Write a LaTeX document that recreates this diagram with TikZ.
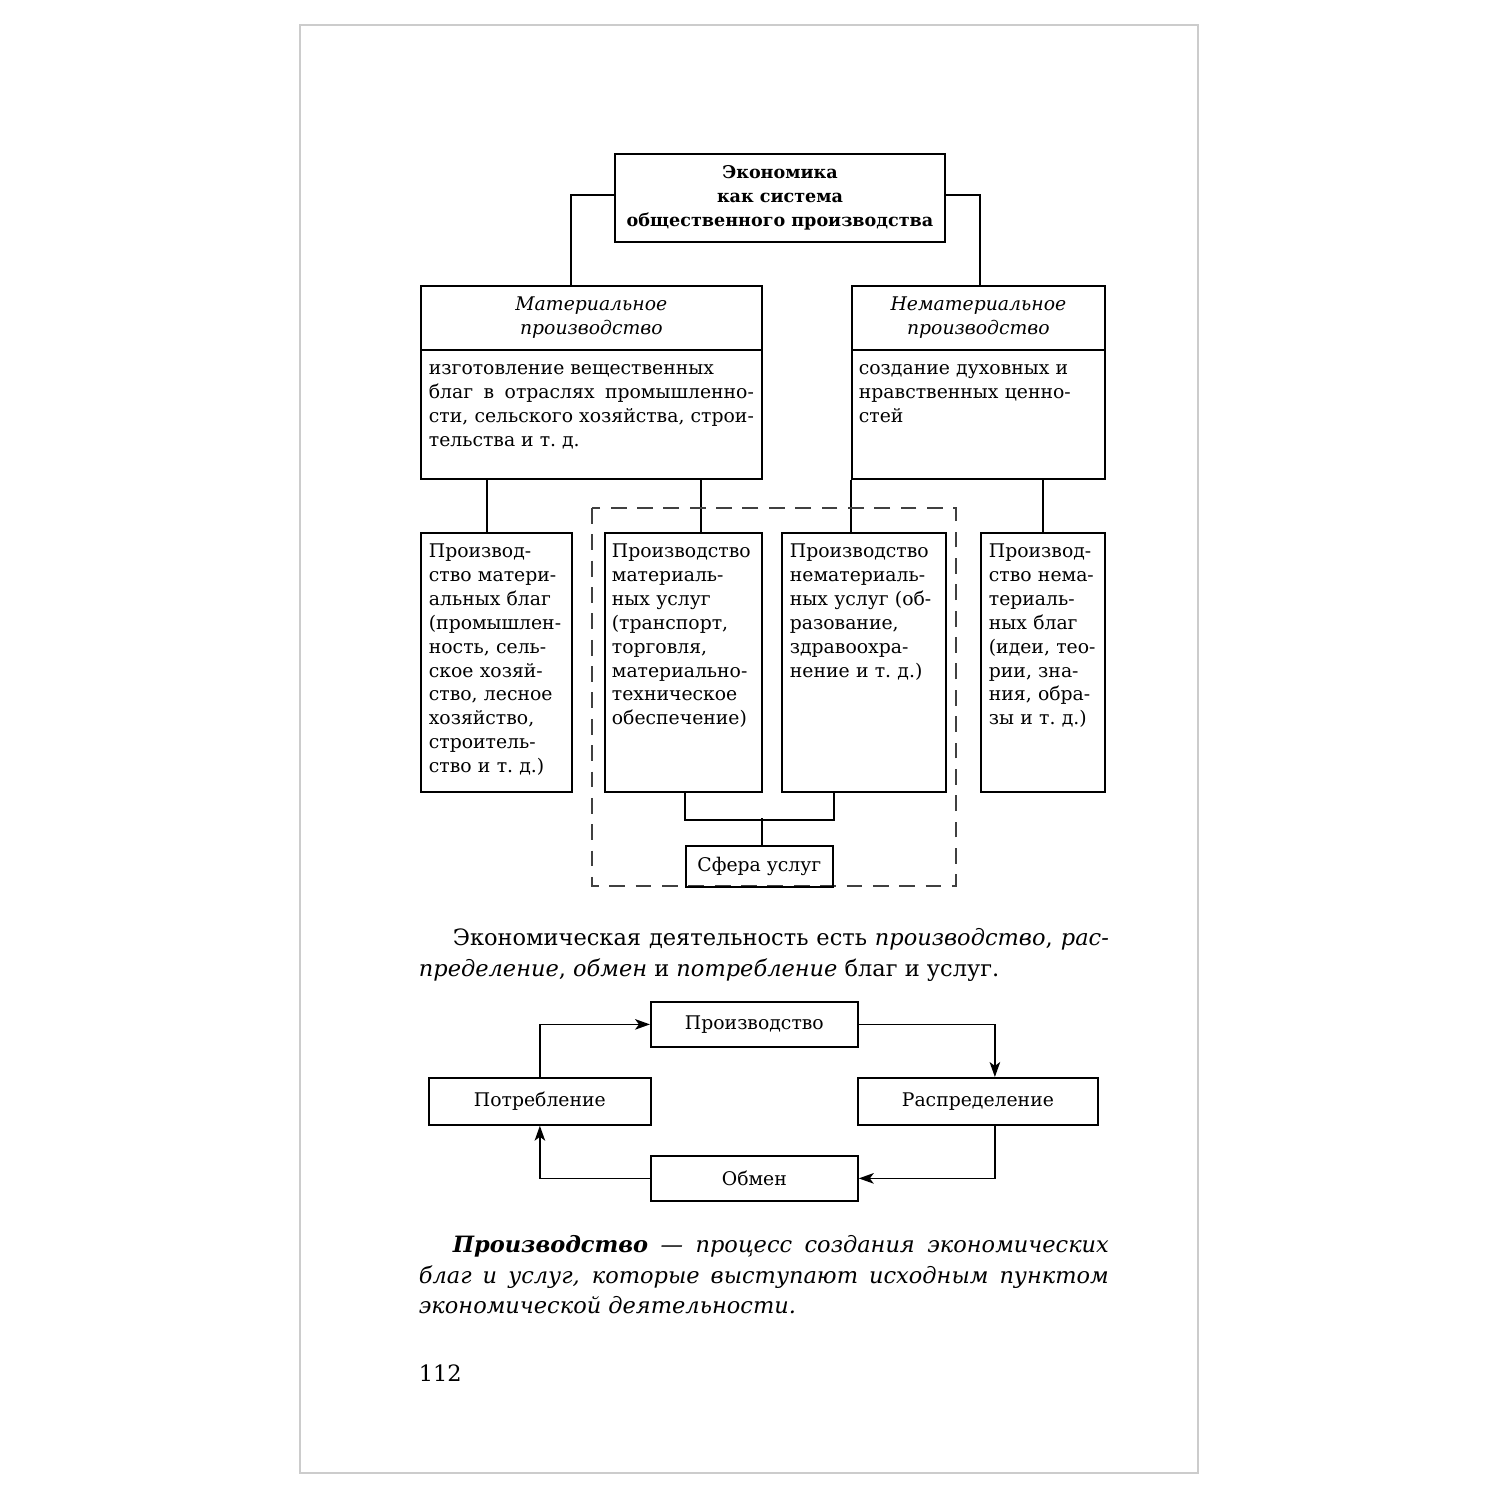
\documentclass[tikz,border=0pt]{standalone}
\usepackage{fontspec}
\setmainfont{DejaVu Serif}
\usetikzlibrary{arrows.meta}
\newlength\unitpx
\setlength\unitpx{0.02cm}
\newcommand\boxfont{\fontsize{10.7pt}{13.6pt}\selectfont}
\newcommand\parafont{\fontsize{12.8pt}{17.2pt}\selectfont}
\begin{document}
\begin{tikzpicture}[x=0.02cm,y=-0.02cm,line width=1pt,
    box/.style={draw, inner sep=0pt, anchor=north west},
    boxtext/.style={anchor=north west, inner sep=0pt, align=left, font=\boxfont},
    arr/.style={-{Stealth[length=8.5pt,width=6pt,inset=2.2pt]}}]
  \useasboundingbox (0,0) rectangle (1500,1500);
  \draw[gray!40, line width=0.8pt] (300,25) rectangle (1198,1473);

  %%%%  Top: economy as a system
  \node[box, anchor=center, minimum width=330\unitpx, minimum height=88\unitpx,
        align=center, font=\fontsize{10pt}{13.6pt}\selectfont\bfseries] (econ) at (780,198)
        {Экономика\\как система\\общественного производства};

  \node[box, minimum width=341\unitpx, minimum height=64\unitpx,
        align=center, font=\boxfont\itshape] (mathead) at (420,285)
        {Материальное\\производство};
  \node[box, minimum width=341\unitpx, minimum height=129\unitpx] (matbody) at (420,349) {};
  \node[boxtext, text width=325\unitpx, align=justify] (mattext) at (428,364)
        {изготовление вещественных\\благ в отраслях промышленно-\linebreak
         сти, сельского хозяйства, строи-\linebreak тельства и т.~д.};

  \node[box, minimum width=253\unitpx, minimum height=64\unitpx,
        align=center, font=\boxfont\itshape] (nonmathead) at (851,285)
        {Нематериальное\\производство};
  \node[box, minimum width=253\unitpx, minimum height=129\unitpx] (nonmatbody) at (851,349) {};
  \node[boxtext, text width=240\unitpx] (nonmattext) at (858,364)
        {создание духовных и\\нравственных ценно-\\стей};

  \draw ([yshift=3\unitpx]econ.west) -| ([xshift=151\unitpx]mathead.north west);
  \draw ([yshift=3\unitpx]econ.east) -| ([xshift=129\unitpx]nonmathead.north west);

  %%%%  Four columns
  \node[box, minimum width=151\unitpx, minimum height=259\unitpx] (b1) at (420,532) {};
  \node[boxtext, text width=140\unitpx] (t1) at (428,543)
        {Производ-\\ство матери-\\альных благ\\(промышлен-\\ность, сель-\\ское хозяй-\\ство, лесное\\хозяйство,\\строитель-\\ство и т.~д.)};
  \node[box, minimum width=157\unitpx, minimum height=259\unitpx] (b2) at (604,532) {};
  \node[boxtext, text width=145\unitpx] (t2) at (611,543)
        {Производство\\материаль-\\ных услуг\\(транспорт,\\торговля,\\материально-\\техническое\\обеспечение)};
  \node[box, minimum width=164\unitpx, minimum height=259\unitpx] (b3) at (781,532) {};
  \node[boxtext, text width=150\unitpx] (t3) at (789,543)
        {Производство\\нематериаль-\\ных услуг (об-\\разование,\\здравоохра-\\нение и т.~д.)};
  \node[box, minimum width=124\unitpx, minimum height=259\unitpx] (b4) at (980,532) {};
  \node[boxtext, text width=112\unitpx] (t4) at (988,543)
        {Производ-\\ство нема-\\териаль-\\ных благ\\(идеи, тео-\\рии, зна-\\ния, обра-\\зы и т.~д.)};

  \coordinate (j1) at (487,478);
  \coordinate (j2) at (701,478);
  \draw (j1) -- (j1 |- b1.north);
  \draw (j2) -- (j2 |- b2.north);
  \draw (nonmatbody.south west) -- (nonmatbody.south west |- b3.north);
  \draw (b4.north) -- (b4.north |- nonmatbody.south);

  %%%%  Services
  \draw[black!75, line width=0.8pt, dash pattern=on 9pt off 6pt] (592,508) rectangle (956,886);
  \node[box, minimum width=147\unitpx, minimum height=41\unitpx, font=\boxfont] (sfera) at (685,845)
        {Сфера услуг};
  \draw (b2.south -| sfera.west) -- ++(0,27) -| (b3.south -| sfera.east);
  \draw ([xshift=2.5\unitpx]sfera.north) -- ++(0,-27);

  %%%%  Text
  \node[anchor=north west, inner sep=0pt, text width=690\unitpx, align=justify, font=\parafont] (para1) at (418,928)
        {\hspace*{34\unitpx}Экономическая деятельность есть \textit{производство}, \textit{рас-}\linebreak
         \textit{пределение}, \textit{обмен} и \textit{потребление} благ и услуг.};

  %%%%  Cycle
  \node[box, minimum width=207\unitpx, minimum height=45\unitpx, font=\boxfont] (prod) at (650,1001) {Производство};
  \node[box, minimum width=222\unitpx, minimum height=47\unitpx, font=\boxfont] (potr) at (428,1077) {Потребление};
  \node[box, minimum width=240\unitpx, minimum height=47\unitpx, font=\boxfont] (raspr) at (857,1077) {Распределение};
  \node[box, minimum width=207\unitpx, minimum height=45\unitpx, font=\boxfont] (obmen) at (650,1155) {Обмен};

  \draw[arr] (potr.north) |- (prod.west);
  \draw[arr] (prod.east) -| ([xshift=17\unitpx]raspr.north);
  \draw[arr] ([xshift=17\unitpx]raspr.south) |- (obmen.east);
  \draw[arr] (obmen.west) -| (potr.south);

  \node[anchor=north west, inner sep=0pt, text width=690\unitpx, align=justify, font=\parafont\itshape] (para2) at (418,1235)
        {\hspace*{34\unitpx}\textbf{Производство} — процесс создания экономических\linebreak
         благ и услуг, которые выступают исходным пунктом\linebreak
         экономической деятельности.};

  \node[anchor=base west, inner sep=0pt, font=\parafont] (pagenum) at (418,1381) {112};
\end{tikzpicture}
\end{document}
